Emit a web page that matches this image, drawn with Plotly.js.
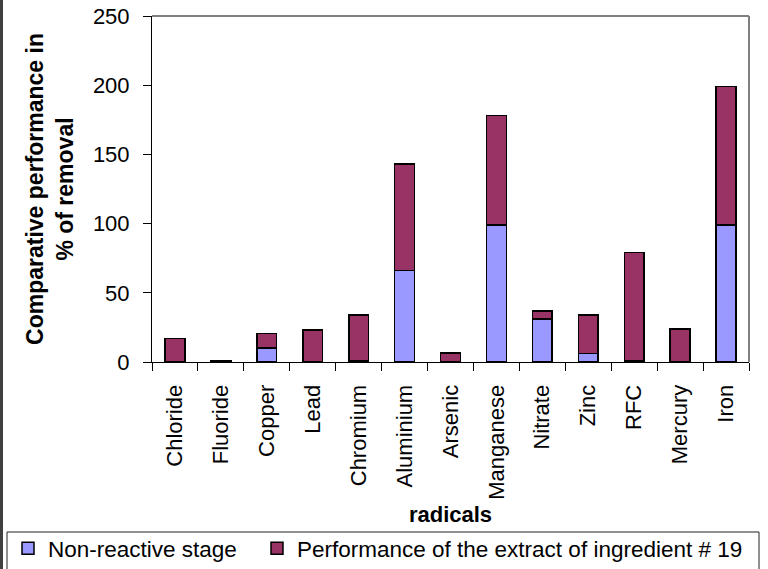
<!DOCTYPE html>
<html>
<head>
<meta charset="utf-8">
<script src="https://cdn.plot.ly/plotly-3.0.1.min.js"></script>
<style>
  html, body { margin: 0; padding: 0; background: #ffffff; }
  #chart { width: 768px; height: 569px; }
</style>
</head>
<body>
<div id="chart"></div>
<script>
const categories = ['Chloride','Fluoride','Copper','Lead','Chromium','Aluminium','Arsenic','Manganese','Nitrate','Zinc','RFC','Mercury','Iron'];
const nonReactive = [0, 0, 10, 0, 1, 66, 0, 99, 31, 6, 1, 0, 99];
const extract19 = [17, 1, 10.5, 23, 33, 77, 6.5, 79, 6, 28, 78, 24, 100];
const seriesNames = ['Non-reactive stage', 'Performance of the extract of ingredient # 19'];
const yTicks = [0, 50, 100, 150, 200, 250];

const FONT = 'Liberation Sans, Arial, sans-serif';
const L = 152, R = 749, T = 16, B = 362;
const W = 768, H = 569;
const px = x => (x - L) / (R - L);
const py = y => (B - y) / (B - T);

const traces = [
  { type: 'bar', x: categories, y: nonReactive, name: seriesNames[0], legend: 'legend',
    marker: { color: '#9999FF', line: { color: '#000000', width: 1.5 } } },
  { type: 'bar', x: categories, y: extract19, name: seriesNames[1], legend: 'legend2',
    marker: { color: '#993366', line: { color: '#000000', width: 1.5 } } }
];

const legendBase = {
  orientation: 'h', traceorder: 'normal',
  xref: 'container', yref: 'container',
  xanchor: 'left', yanchor: 'top',
  bgcolor: 'rgba(0,0,0,0)', borderwidth: 0,
  font: { family: FONT, size: 22.5, color: '#000000' }
};

const layout = {
  width: W, height: H,
  margin: { l: L, r: W - R, t: T, b: H - B },
  paper_bgcolor: '#ffffff', plot_bgcolor: '#ffffff',
  font: { family: FONT, size: 22, color: '#000000' },
  barmode: 'stack',
  bargap: 0.57,
  showlegend: true,
  legend: Object.assign({}, legendBase, { x: 8 / W, y: 1 - 527 / H }),
  legend2: Object.assign({}, legendBase, { x: 257 / W, y: 1 - 527 / H }),
  xaxis: {
    type: 'category',
    tickson: 'boundaries', ticks: 'outside', ticklen: 8, tickwidth: 1, tickcolor: '#000000',
    tickangle: -90, ticklabelstandoff: 13,
    showline: true, linecolor: '#000000', linewidth: 1,
    showgrid: false, zeroline: false, automargin: false,
    tickfont: { family: FONT, size: 22, color: '#000000' },
    title: { text: '<b>radicals</b>', standoff: 12, font: { family: FONT, size: 22, color: '#000000' } }
  },
  yaxis: {
    range: [0, 250], tickvals: yTicks, ticktext: yTicks.map(String),
    ticks: 'outside', ticklen: 8, tickwidth: 1, tickcolor: '#000000',
    ticklabelstandoff: 9,
    showline: true, linecolor: '#000000', linewidth: 1,
    showgrid: false, zeroline: false, automargin: false,
    tickfont: { family: FONT, size: 22, color: '#000000' },
    title: { text: '<b>Comparative performance in<br>% of removal</b>', standoff: 12,
             font: { family: FONT, size: 23, color: '#000000' } }
  },
  shapes: [
    { type: 'line', xref: 'paper', yref: 'paper', x0: 0, x1: 1, y0: 1, y1: 1,
      line: { color: '#808080', width: 2 } },
    { type: 'line', xref: 'paper', yref: 'paper', x0: 1, x1: 1, y0: 0, y1: 1,
      line: { color: '#808080', width: 2 } },
    { type: 'rect', xref: 'paper', yref: 'paper',
      x0: px(7), x1: px(759), y0: py(575), y1: py(532),
      line: { color: '#222222', width: 1 }, fillcolor: 'rgba(0,0,0,0)' },
    { type: 'line', xref: 'paper', yref: 'paper', x0: px(1.5), x1: px(1.5), y0: py(-5), y1: py(575),
      line: { color: '#404040', width: 3 } }
  ]
};

Plotly.newPlot('chart', traces, layout, { displayModeBar: false, staticPlot: true });
</script>
</body>
</html>
